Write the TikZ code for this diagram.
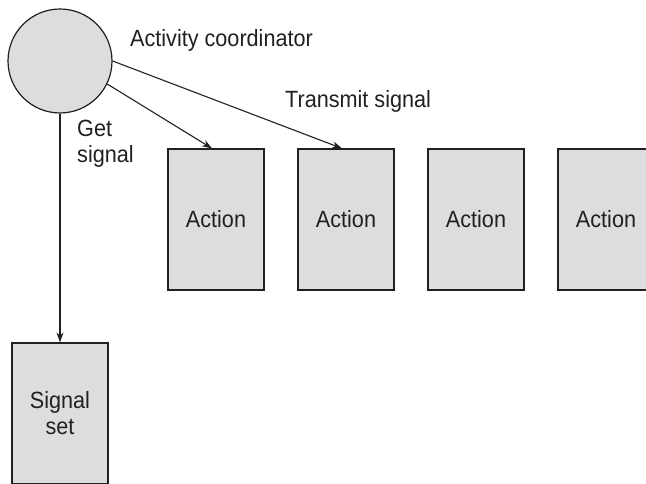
\documentclass[tikz,border=0pt]{standalone}
\usepackage{fontspec}
\setmainfont{Liberation Sans}[FakeStretch=0.92]
\usepackage{tikz}
\usetikzlibrary{positioning,arrows.meta,calc}
\definecolor{boxgray}{HTML}{DCDDDF}
\definecolor{inkline}{HTML}{231F20}

\begin{document}
\begin{tikzpicture}[x=1pt, y=1pt, >={Stealth[length=10pt,width=7pt]},
    font=\fontsize{23.5}{26}\selectfont,
    actbox/.style={draw=inkline, line width=1.2pt, fill=boxgray,
      minimum width=96pt, minimum height=141pt, inner sep=0pt,
      align=center, text=inkline},
    lbl/.style={inner sep=0pt, text=inkline, align=left},
    link/.style={->, draw=inkline, line width=1.1pt}]
  \useasboundingbox (0,0) rectangle (646,484);

  % Coordinator
  \node[circle, draw=inkline, line width=1.2pt, fill=boxgray,
        minimum size=104pt, inner sep=0pt] (coord) at (60,423) {};
  \node[lbl, anchor=base west] (coordlbl) at (130,437) {Activity coordinator};

  % Actions
  \foreach \i in {1,...,4}
    \node[actbox] (act\i) at (86+130*\i,264.5) {Action};

  % Signal set
  \node[actbox] (sigset) at (60,70.5) {Signal\\set};

  % Arrows
  \draw[link] (coord.south) -- (sigset.north);
  \draw[link] (coord.-26) -- ([xshift=-4pt]act1.north);
  \draw[link] (coord.east) -- ([xshift=-4pt]act2.north);

  % Labels
  \node[lbl, anchor=base west] (getlbl) at (77,321) {Get\\signal};
  \node[lbl, anchor=base west] (sendlbl) at (285,376) {Transmit signal};
\end{tikzpicture}
\end{document}
